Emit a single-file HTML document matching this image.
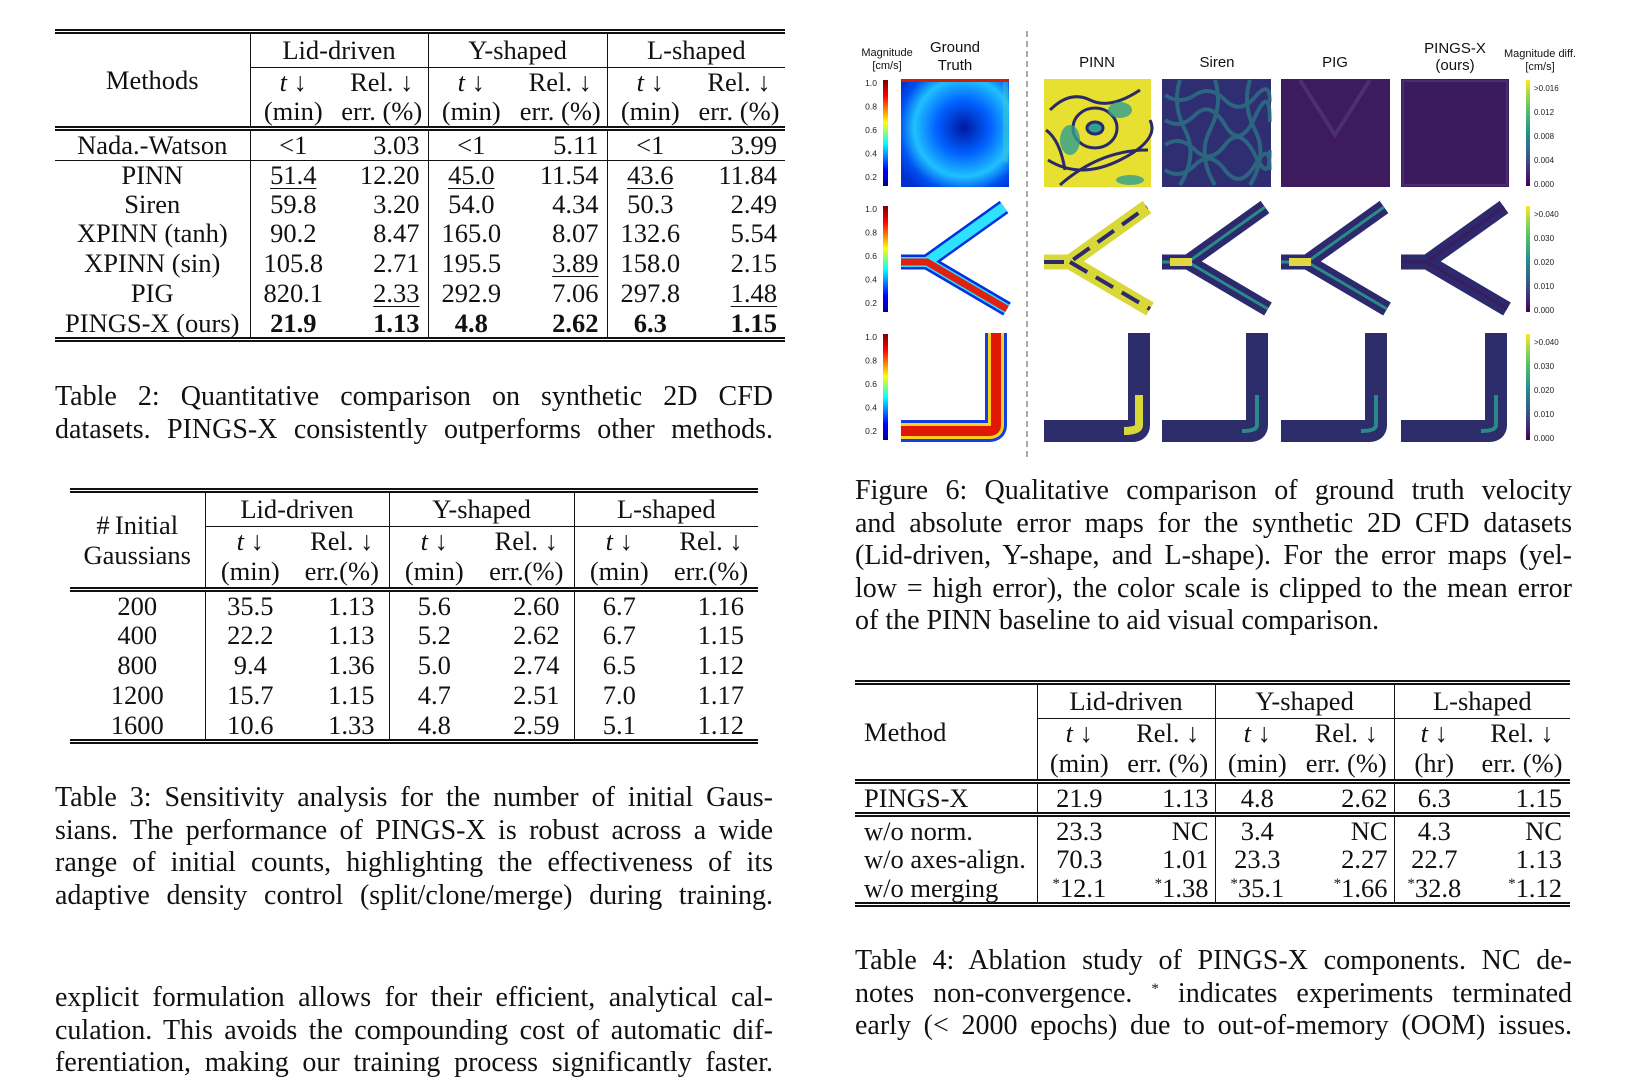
<!DOCTYPE html>
<html><head><meta charset="utf-8">
<style>
body{margin:0;width:1625px;height:1071px;overflow:hidden;background:#fff;position:relative;font-family:"Liberation Serif",serif;color:#111}
.tbl{position:absolute;border-collapse:collapse;font-size:26.5px;table-layout:fixed}
.tbl td{padding:0;white-space:nowrap;text-align:center;line-height:1}
.cap div{text-align:justify;text-align-last:justify;height:32.5px;white-space:nowrap;}
.cap div.last{text-align-last:left}
.cap{position:absolute;font-size:28px;line-height:32.5px}
sup{line-height:0;font-size:15px;vertical-align:9px}
.vr{border-right:1px solid #111}
.r{text-align:right!important}
.top2{border-top:5px double #111}
.bot2{border-bottom:5px double #111}
.b1{border-bottom:1px solid #111}
.gu{border-bottom:1px solid #111}
u{text-decoration:underline;text-underline-offset:4px;text-decoration-thickness:1px}
</style></head><body>

<!-- Table 2 -->
<table class="tbl" style="left:55px;top:29px;width:730px">
<colgroup><col style="width:195px"><col style="width:86px"><col style="width:92px"><col style="width:86px"><col style="width:93px"><col style="width:86px"><col style="width:92px"></colgroup>
<tr style="height:36px" class="top2"><td rowspan="3" class="vr">Methods</td><td colspan="2" class="vr gu">Lid-driven</td><td colspan="2" class="vr gu">Y-shaped</td><td colspan="2" class="gu">L-shaped</td></tr>
<tr style="height:28px"><td><i>t</i> &#8595;</td><td class="vr">Rel. &#8595;</td><td><i>t</i> &#8595;</td><td class="vr">Rel. &#8595;</td><td><i>t</i> &#8595;</td><td>Rel. &#8595;</td></tr>
<tr style="height:33px" class="bot2"><td>(min)</td><td class="vr">err. (%)</td><td>(min)</td><td class="vr">err. (%)</td><td>(min)</td><td>err. (%)</td></tr>
<tr style="height:32px" class="b1"><td class="vr">Nada.-Watson</td><td>&lt;1</td><td class="r vr" style="padding-right:8px">3.03</td><td>&lt;1</td><td class="r vr" style="padding-right:8px">5.11</td><td>&lt;1</td><td class="r" style="padding-right:8px">3.99</td></tr>
<tr style="height:29px"><td class="vr">PINN</td><td><u>51.4</u></td><td class="r vr" style="padding-right:8px">12.20</td><td><u>45.0</u></td><td class="r vr" style="padding-right:8px">11.54</td><td><u>43.6</u></td><td class="r" style="padding-right:8px">11.84</td></tr>
<tr style="height:29px"><td class="vr">Siren</td><td>59.8</td><td class="r vr" style="padding-right:8px">3.20</td><td>54.0</td><td class="r vr" style="padding-right:8px">4.34</td><td>50.3</td><td class="r" style="padding-right:8px">2.49</td></tr>
<tr style="height:30px"><td class="vr">XPINN (tanh)</td><td>90.2</td><td class="r vr" style="padding-right:8px">8.47</td><td>165.0</td><td class="r vr" style="padding-right:8px">8.07</td><td>132.6</td><td class="r" style="padding-right:8px">5.54</td></tr>
<tr style="height:30px"><td class="vr">XPINN (sin)</td><td>105.8</td><td class="r vr" style="padding-right:8px">2.71</td><td>195.5</td><td class="r vr" style="padding-right:8px"><u>3.89</u></td><td>158.0</td><td class="r" style="padding-right:8px">2.15</td></tr>
<tr style="height:30px"><td class="vr">PIG</td><td>820.1</td><td class="r vr" style="padding-right:8px"><u>2.33</u></td><td>292.9</td><td class="r vr" style="padding-right:8px">7.06</td><td>297.8</td><td class="r" style="padding-right:8px"><u>1.48</u></td></tr>
<tr style="height:31px" class="bot2"><td class="vr">PINGS-X (ours)</td><td><b>21.9</b></td><td class="r vr" style="padding-right:8px"><b>1.13</b></td><td><b>4.8</b></td><td class="r vr" style="padding-right:8px"><b>2.62</b></td><td><b>6.3</b></td><td class="r" style="padding-right:8px"><b>1.15</b></td></tr>
</table>

<div class="cap" style="left:55px;top:381px;width:718px">
<div>Table 2: Quantitative comparison on synthetic 2D CFD</div>
<div>datasets. PINGS-X consistently outperforms other methods.</div>
</div>

<!-- Table 3 -->
<table class="tbl" style="left:70px;top:488px;width:688px">
<colgroup><col style="width:135px"><col style="width:90px"><col style="width:94px"><col style="width:90px"><col style="width:95px"><col style="width:90px"><col style="width:94px"></colgroup>
<tr style="height:36px" class="top2"><td rowspan="3" class="vr" style="line-height:30px">#&#8201;Initial<br>Gaussians</td><td colspan="2" class="vr gu">Lid-driven</td><td colspan="2" class="vr gu">Y-shaped</td><td colspan="2" class="gu">L-shaped</td></tr>
<tr style="height:29px"><td><i>t</i> &#8595;</td><td class="vr">Rel. &#8595;</td><td><i>t</i> &#8595;</td><td class="vr">Rel. &#8595;</td><td><i>t</i> &#8595;</td><td>Rel. &#8595;</td></tr>
<tr style="height:34px" class="bot2"><td>(min)</td><td class="vr">err.(%)</td><td>(min)</td><td class="vr">err.(%)</td><td>(min)</td><td>err.(%)</td></tr>
<tr style="height:31px"><td class="vr">200</td><td>35.5</td><td class="r vr" style="padding-right:14px">1.13</td><td>5.6</td><td class="r vr" style="padding-right:14px">2.60</td><td>6.7</td><td class="r" style="padding-right:14px">1.16</td></tr>
<tr style="height:30px"><td class="vr">400</td><td>22.2</td><td class="r vr" style="padding-right:14px">1.13</td><td>5.2</td><td class="r vr" style="padding-right:14px">2.62</td><td>6.7</td><td class="r" style="padding-right:14px">1.15</td></tr>
<tr style="height:30px"><td class="vr">800</td><td>9.4</td><td class="r vr" style="padding-right:14px">1.36</td><td>5.0</td><td class="r vr" style="padding-right:14px">2.74</td><td>6.5</td><td class="r" style="padding-right:14px">1.12</td></tr>
<tr style="height:30px"><td class="vr">1200</td><td>15.7</td><td class="r vr" style="padding-right:14px">1.15</td><td>4.7</td><td class="r vr" style="padding-right:14px">2.51</td><td>7.0</td><td class="r" style="padding-right:14px">1.17</td></tr>
<tr style="height:31px" class="bot2"><td class="vr">1600</td><td>10.6</td><td class="r vr" style="padding-right:14px">1.33</td><td>4.8</td><td class="r vr" style="padding-right:14px">2.59</td><td>5.1</td><td class="r" style="padding-right:14px">1.12</td></tr>
</table>

<div class="cap" style="left:55px;top:782px;width:718px">
<div>Table 3: Sensitivity analysis for the number of initial Gaus-</div>
<div>sians. The performance of PINGS-X is robust across a wide</div>
<div>range of initial counts, highlighting the effectiveness of its</div>
<div>adaptive density control (split/clone/merge) during training.</div>
</div>

<div class="cap" style="left:55px;top:982px;width:718px">
<div>explicit formulation allows for their efficient, analytical cal-</div>
<div>culation. This avoids the compounding cost of automatic dif-</div>
<div>ferentiation, making our training process significantly faster.</div>
</div>

<!-- Figure 6 -->
<svg style="position:absolute;left:0;top:0" width="1625" height="470" font-family="Liberation Sans, sans-serif">
<defs>
<linearGradient id="jet" x1="0" y1="1" x2="0" y2="0"><stop offset="0" stop-color="#00008f"/><stop offset=".15" stop-color="#0000ff"/><stop offset=".4" stop-color="#00ffff"/><stop offset=".6" stop-color="#ffff00"/><stop offset=".85" stop-color="#ff0000"/><stop offset="1" stop-color="#800000"/></linearGradient>
<linearGradient id="vir" x1="0" y1="1" x2="0" y2="0"><stop offset="0" stop-color="#440154"/><stop offset=".25" stop-color="#3b528b"/><stop offset=".5" stop-color="#21918c"/><stop offset=".75" stop-color="#5ec962"/><stop offset="1" stop-color="#fde725"/></linearGradient>
<radialGradient id="lid" cx=".58" cy=".45" r=".7"><stop offset="0" stop-color="#0018a0"/><stop offset=".35" stop-color="#0060ff"/><stop offset=".65" stop-color="#20c0ff"/><stop offset=".85" stop-color="#0050f0"/><stop offset="1" stop-color="#0030d0"/></radialGradient>
</defs>
<line x1="1027" y1="31" x2="1027" y2="458" stroke="#aaa" stroke-width="2" stroke-dasharray="6,4"/>
<g font-size="11" text-anchor="middle" fill="#111">
<text x="887" y="56">Magnitude</text><text x="887" y="69">[cm/s]</text>
<text x="955" y="52" font-size="15">Ground</text><text x="955" y="70" font-size="15">Truth</text>
<text x="1097" y="67" font-size="15">PINN</text>
<text x="1217" y="67" font-size="15">Siren</text>
<text x="1335" y="67" font-size="15">PIG</text>
<text x="1455" y="53" font-size="15">PINGS-X</text><text x="1455" y="70" font-size="15">(ours)</text>
<text x="1540" y="57">Magnitude diff.</text><text x="1540" y="70">[cm/s]</text>
</g>
<g id="cbars" font-size="8.5" fill="#222"></g>
<rect x="901" y="79" width="108" height="108" fill="url(#lid)"/>
<rect x="901" y="79" width="108" height="3" fill="#d02000"/>
<rect x="1003" y="82" width="5" height="80" fill="#40c8c0" opacity=".5"/>
<rect x="1044" y="79" width="107" height="108" fill="#e8e030"/>
<g fill="none" stroke="#2a2a6a" stroke-width="3">
<ellipse cx="1095" cy="128" rx="22" ry="20"/><ellipse cx="1095" cy="128" rx="8" ry="6" fill="#30a090"/>
<path d="M1050,110 Q1070,90 1090,100 T1140,90"/><path d="M1048,160 Q1080,180 1120,160 T1150,120"/><path d="M1060,185 Q1100,150 1148,150"/><path d="M1046,130 Q1060,140 1065,170"/>
</g>
<g fill="#30a090" opacity=".8"><ellipse cx="1070" cy="140" rx="10" ry="15"/><ellipse cx="1120" cy="110" rx="12" ry="8"/><ellipse cx="1130" cy="180" rx="14" ry="5"/></g>
<rect x="1162" y="79" width="109" height="108" fill="#2f2e72"/>
<g fill="none" stroke="#2a8a8a" stroke-width="4" opacity=".6">
<path d="M1165,95 q15,10 30,0 t30,5 t30,-3 t15,5"/><path d="M1165,120 q15,10 30,-5 t30,10 t30,-8 t15,5"/><path d="M1165,145 q15,-10 30,5 t30,-5 t30,10 t15,-5"/><path d="M1165,170 q15,10 30,-5 t30,5 t30,-5 t15,5"/>
<path d="M1180,80 q-8,25 5,50 t-5,55"/><path d="M1215,80 q8,25 -5,50 t5,55"/><path d="M1250,80 q-8,25 5,50 t-5,55"/>
</g>
<rect x="1281" y="79" width="109" height="108" fill="#3e1a5e"/>
<path d="M1300,80 L1335,135 L1370,80" fill="none" stroke="#4a3070" stroke-width="4"/>
<rect x="1401" y="79" width="108" height="108" fill="#3c1a5e"/>
<rect x="1403" y="81" width="104" height="104" fill="none" stroke="#46306c" stroke-width="2"/>
<g id="yrow" fill="none" stroke-linejoin="miter"></g>
<g id="lrow" fill="none"></g>
</svg>

<div class="cap" style="left:855px;top:475px;width:717px">
<div>Figure 6: Qualitative comparison of ground truth velocity</div>
<div>and absolute error maps for the synthetic 2D CFD datasets</div>
<div>(Lid-driven, Y-shape, and L-shape). For the error maps (yel-</div>
<div>low = high error), the color scale is clipped to the mean error</div>
<div class="last">of the PINN baseline to aid visual comparison.</div>
</div>

<!-- Table 4 -->
<table class="tbl" style="left:855px;top:680px;width:715px">
<colgroup><col style="width:182px"><col style="width:84px"><col style="width:94px"><col style="width:84px"><col style="width:95px"><col style="width:80px"><col style="width:96px"></colgroup>
<tr style="height:36px" class="top2"><td rowspan="3" class="vr" style="text-align:left;padding-left:9px">Method</td><td colspan="2" class="vr gu">Lid-driven</td><td colspan="2" class="vr gu">Y-shaped</td><td colspan="2" class="gu">L-shaped</td></tr>
<tr style="height:29px"><td><i>t</i> &#8595;</td><td class="vr">Rel. &#8595;</td><td><i>t</i> &#8595;</td><td class="vr">Rel. &#8595;</td><td><i>t</i> &#8595;</td><td>Rel. &#8595;</td></tr>
<tr style="height:34px" class="bot2"><td>(min)</td><td class="vr">err. (%)</td><td>(min)</td><td class="vr">err. (%)</td><td>(hr)</td><td>err. (%)</td></tr>
<tr style="height:33px" class="bot2"><td class="vr" style="text-align:left;padding-left:9px">PINGS-X</td><td>21.9</td><td class="r vr" style="padding-right:6px">1.13</td><td>4.8</td><td class="r vr" style="padding-right:6px">2.62</td><td>6.3</td><td class="r" style="padding-right:8px">1.15</td></tr>
<tr style="height:30px"><td class="vr" style="text-align:left;padding-left:9px">w/o norm.</td><td>23.3</td><td class="r vr" style="padding-right:6px">NC</td><td>3.4</td><td class="r vr" style="padding-right:6px">NC</td><td>4.3</td><td class="r" style="padding-right:8px">NC</td></tr>
<tr style="height:29px"><td class="vr" style="text-align:left;padding-left:9px">w/o axes-align.</td><td>70.3</td><td class="r vr" style="padding-right:6px">1.01</td><td>23.3</td><td class="r vr" style="padding-right:6px">2.27</td><td>22.7</td><td class="r" style="padding-right:8px">1.13</td></tr>
<tr style="height:31px" class="bot2"><td class="vr" style="text-align:left;padding-left:9px">w/o merging</td><td><sup>*</sup>12.1</td><td class="r vr" style="padding-right:6px"><sup>*</sup>1.38</td><td><sup>*</sup>35.1</td><td class="r vr" style="padding-right:6px"><sup>*</sup>1.66</td><td><sup>*</sup>32.8</td><td class="r" style="padding-right:8px"><sup>*</sup>1.12</td></tr>
</table>

<div class="cap" style="left:855px;top:945px;width:717px">
<div>Table 4: Ablation study of PINGS-X components. NC de-</div>
<div>notes non-convergence. <sup>*</sup> indicates experiments terminated</div>
<div>early (&lt; 2000 epochs) due to out-of-memory (OOM) issues.</div>
</div>

<script>
const rowTops = [79, 205, 333];
const leftTicks = ['1.0','0.8','0.6','0.4','0.2'];
const rightTicks = [['>0.016','0.012','0.008','0.004','0.000'],['>0.040','0.030','0.020','0.010','0.000'],['>0.040','0.030','0.020','0.010','0.000']];
const NS='http://www.w3.org/2000/svg';
const cb=document.getElementById('cbars');
function mk(tag,attrs,parent){const e=document.createElementNS(NS,tag);for(const k in attrs)e.setAttribute(k,attrs[k]);parent.appendChild(e);return e;}
rowTops.forEach((t,i)=>{
  const l=mk('rect',{x:883,y:t+1,width:5,height:106,fill:'url(#jet)'},cb);
  
  
  leftTicks.forEach((s,j)=>{const tx=mk('text',{x:877,y:t+7+j*23.5,'text-anchor':'end'},cb);tx.textContent=s;});
  const r=mk('rect',{x:1526,y:t+1,width:4,height:106,fill:'url(#vir)'},cb);
  
  
  rightTicks[i].forEach((s,j)=>{const tx=mk('text',{x:1534,y:t+12+j*24,'font-size':'8'},cb);tx.textContent=s;});
});
const yg=document.getElementById('yrow');
const xs=[901,1044,1162,1281,1401];
xs.forEach((x0,i)=>{
  const d=`M${x0},262 L${x0+26},262 L${x0+103},207 M${x0+26},262 L${x0+106},309`;
  if(i===0){
    mk('path',{d,stroke:'#0030e0','stroke-width':15},yg);
    mk('path',{d,stroke:'#30e0ff','stroke-width':10},yg);
    mk('path',{d:`M${x0},262 L${x0+26},262 L${x0+106},309`,stroke:'#e02010','stroke-width':7},yg);
  } else {
    mk('path',{d,stroke:i===1?'#d8d838':'#2c2a6c','stroke-width':15},yg);
    mk('path',{d,stroke:i===1?'#2c2a6c':(i===4?'#3a1c60':'#2a8a8a'),'stroke-width':i===1?4:3,'stroke-dasharray':i===1?'20,10':'none'},yg);
    if(i===2||i===3) mk('path',{d:`M${x0+8},262 L${x0+30},262`,stroke:'#e0d840','stroke-width':8},yg);
  }
});
const lg=document.getElementById('lrow');
xs.forEach((x0,i)=>{
  const d=`M${x0+95},333 L${x0+95},425 Q${x0+95},431 ${x0+88},431 L${x0},431`;
  if(i===0){
    mk('path',{d,stroke:'#1040e0','stroke-width':22},lg);
    mk('path',{d,stroke:'#ffd020','stroke-width':16},lg);
    mk('path',{d,stroke:'#e01808','stroke-width':10},lg);
  } else {
    mk('path',{d,stroke:'#2e2d6c','stroke-width':22},lg);
    mk('path',{d:`M${x0+95},395 L${x0+95},425 Q${x0+95},431 ${x0+80},431`,stroke:i===1?'#d8d838':'#2a8a8a','stroke-width':i===1?8:4},lg);
  }
});
</script>
</body></html>
